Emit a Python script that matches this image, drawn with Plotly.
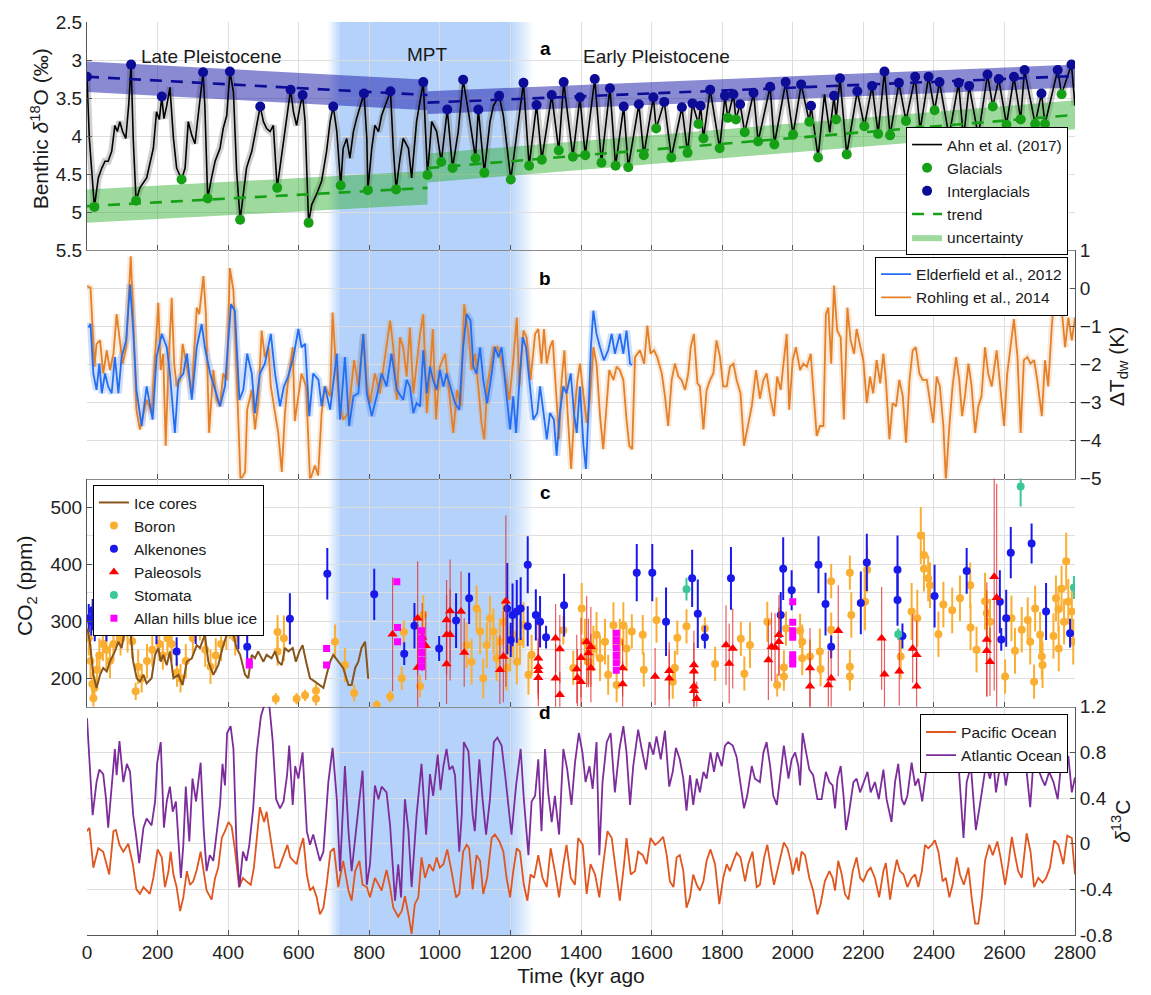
import plotly.graph_objects as go
from plotly.subplots import make_subplots

FONT = "Liberation Sans, Arial, Helvetica, sans-serif"

AGE_RANGE = [0, 2800]
X_TICKS = list(range(0, 2801, 200))

# Mid-Pleistocene Transition shading (kyr): solid core plus soft edges
MPT_CORE = (717, 1200)
MPT_EDGE_LEFT = 683
MPT_EDGE_RIGHT = 1265

# ---------------- panel a: benthic d18O stack (kyr ago, permil) ----------------
AHN_D18O = [
    (0, 3.22), (6.6, 4.03), (21, 4.93), (32, 4.55), (42, 4.42), (51, 4.33), (60, 4.33), (70, 4.20),
    (79, 3.86), (86, 3.94), (93, 3.81), (101, 3.94), (110, 4.03), (118, 3.60), (125, 3.06), (131, 4.03),
    (139, 4.85), (150, 4.68), (169, 4.55), (188, 4.16), (197, 3.68), (205, 3.78), (212, 3.48), (218, 3.77),
    (226, 3.60), (235, 3.36), (245, 4.03), (254, 4.42), (268, 4.57), (278, 4.42), (287, 3.81), (297, 3.99),
    (306, 4.10), (320, 3.47), (329, 3.16), (334, 3.60), (342, 4.82), (353, 4.55), (363, 4.33), (377, 4.16),
    (386, 3.90), (396, 3.73), (405, 3.15), (415, 3.42), (424, 4.46), (434, 5.10), (443, 4.72), (452, 4.42),
    (467, 4.20), (481, 3.86), (491, 3.61), (500, 3.81), (509, 3.90), (519, 3.94), (528, 3.86), (539, 4.68),
    (547, 4.42), (556, 4.12), (566, 3.77), (577, 3.39), (585, 3.68), (594, 3.86), (604, 3.60), (611, 3.46),
    (618, 3.81), (628, 5.14), (637, 4.90), (651, 4.76), (665, 4.59), (679, 4.20), (689, 3.81), (698, 3.61),
    (708, 3.94), (719, 4.65), (726, 4.16), (736, 4.03), (745, 4.29), (755, 3.94), (764, 3.77), (774, 3.60),
    (785, 3.44), (793, 4.03), (796, 4.71), (807, 4.16), (816, 3.86), (826, 3.94), (835, 3.73), (845, 3.60),
    (860, 3.41), (868, 4.16), (876, 4.70), (887, 4.30), (896, 4.03), (911, 4.16), (920, 4.55), (934, 3.81),
    (953, 3.29), (965, 4.51), (977, 3.81), (991, 3.94), (1004, 4.34), (1021, 3.65), (1036, 4.42), (1052, 3.94),
    (1066, 3.26), (1081, 3.68), (1090, 3.94), (1101, 4.29), (1109, 3.65), (1126, 4.48), (1142, 3.81),
    (1152, 3.60), (1168, 3.47), (1180, 3.73), (1201, 4.57), (1218, 3.94), (1237, 3.30), (1253, 4.39),
    (1274, 3.59), (1289, 4.31), (1303, 3.85), (1317, 3.46), (1337, 4.19), (1351, 3.29), (1377, 4.27),
    (1397, 3.49), (1412, 4.25), (1439, 3.25), (1458, 4.35), (1482, 3.37), (1498, 4.39), (1521, 3.61),
    (1534, 4.41), (1564, 3.58), (1578, 4.25), (1605, 3.49), (1613, 3.90), (1636, 3.55), (1656, 4.28),
    (1686, 3.62), (1702, 4.22), (1716, 3.57), (1733, 3.84), (1739, 3.60), (1747, 4.03), (1766, 3.39),
    (1793, 4.16), (1808, 3.47), (1816, 3.76), (1832, 3.45), (1839, 3.78), (1851, 3.58), (1864, 3.95),
    (1889, 3.43), (1902, 4.07), (1936, 3.35), (1948, 4.11), (1980, 3.29), (2001, 3.98), (2024, 3.32),
    (2047, 3.81), (2052, 3.60), (2072, 4.28), (2090, 3.45), (2105, 3.95), (2117, 3.47), (2123, 3.78),
    (2134, 3.24), (2153, 4.24), (2183, 3.41), (2203, 3.87), (2225, 3.34), (2242, 3.97), (2260, 3.15),
    (2276, 3.99), (2301, 3.30), (2321, 3.80), (2347, 3.22), (2361, 3.92), (2385, 3.22), (2402, 3.66),
    (2416, 3.29), (2443, 4.00), (2470, 3.30), (2484, 4.03), (2500, 3.34), (2526, 4.00), (2552, 3.19),
    (2567, 3.61), (2584, 3.25), (2606, 3.85), (2627, 3.22), (2646, 3.78), (2657, 3.13), (2687, 3.84),
    (2705, 3.44), (2715, 3.84), (2751, 3.13), (2762, 3.45), (2790, 3.06), (2800, 3.60),
]

GLACIALS = [
    (21, 4.93), (139, 4.85), (268, 4.57), (342, 4.82), (434, 5.10), (539, 4.68), (628, 5.14), (719, 4.65),
    (796, 4.71), (876, 4.70), (965, 4.51), (1004, 4.34), (1036, 4.42), (1101, 4.29), (1126, 4.48),
    (1201, 4.57), (1253, 4.39), (1289, 4.31), (1337, 4.19), (1377, 4.27), (1412, 4.25), (1458, 4.35),
    (1498, 4.39), (1534, 4.41), (1578, 4.25), (1613, 3.90), (1656, 4.28), (1702, 4.22), (1733, 3.84),
    (1747, 4.03), (1793, 4.16), (1816, 3.76), (1839, 3.78), (1864, 3.95), (1902, 4.07), (1948, 4.11),
    (2001, 3.98), (2047, 3.81), (2072, 4.28), (2123, 3.78), (2153, 4.24), (2203, 3.87), (2242, 3.97),
    (2276, 3.99), (2321, 3.80), (2361, 3.92), (2402, 3.66), (2567, 3.61), (2606, 3.85), (2646, 3.78),
    (2687, 3.84), (2715, 3.84), (2762, 3.45),
]

INTERGLACIALS = [
    (0, 3.22), (125, 3.06), (212, 3.48), (329, 3.16), (405, 3.15), (491, 3.61), (577, 3.39), (611, 3.46),
    (698, 3.61), (785, 3.44), (860, 3.41), (953, 3.29), (1021, 3.65), (1066, 3.26), (1109, 3.65),
    (1168, 3.47), (1237, 3.30), (1274, 3.59), (1317, 3.46), (1351, 3.29), (1397, 3.49), (1439, 3.25),
    (1482, 3.37), (1521, 3.61), (1564, 3.58), (1605, 3.49), (1636, 3.55), (1686, 3.62), (1716, 3.57),
    (1739, 3.60), (1766, 3.39), (1808, 3.47), (1832, 3.45), (1851, 3.58), (1889, 3.43), (1936, 3.35),
    (1980, 3.29), (2024, 3.32), (2052, 3.60), (2117, 3.47), (2134, 3.24), (2183, 3.41), (2225, 3.34),
    (2260, 3.15), (2301, 3.30), (2347, 3.22), (2385, 3.22), (2416, 3.29), (2470, 3.30), (2500, 3.34),
    (2552, 3.19), (2584, 3.25), (2627, 3.22), (2657, 3.13), (2705, 3.44), (2751, 3.13), (2790, 3.06),
]

# trend segments: (start kyr, end kyr, value at start, value at end, half-width of uncertainty)
TREND_INTERGLACIAL = [(0, 965, 3.22, 3.46, 0.20), (965, 2800, 3.56, 3.21, 0.15)]
TREND_GLACIAL = [(0, 965, 4.92, 4.68, 0.22), (965, 2800, 4.42, 3.72, 0.19)]

# ---------------- panel b: deep-water temperature anomaly (K) ----------------
ELDERFIELD = [
    (4, -1.03), (10, -0.94), (18, -2.24), (27, -2.67), (35, -1.98), (42, -2.76), (51, -2.24), (60, -2.58),
    (70, -2.76), (79, -1.81), (89, -2.76), (98, -1.81), (111, -1.37), (122, 0.10), (131, -1.11), (140, -2.67),
    (155, -3.62), (169, -2.58), (186, -3.45), (197, -1.81), (212, -1.20), (226, -1.55), (235, -2.24),
    (249, -3.80), (259, -2.41), (273, -2.24), (283, -1.72), (297, -2.93), (311, -1.55), (325, -0.94),
    (334, -1.55), (349, -2.24), (363, -2.67), (377, -3.10), (391, -2.58), (408, -0.42), (419, -0.59),
    (432, -2.93), (443, -2.67), (454, -1.72), (467, -2.24), (476, -3.28), (490, -2.24), (504, -1.98),
    (521, -1.20), (533, -2.24), (547, -3.10), (558, -2.58), (570, -2.32), (585, -1.81), (599, -1.07),
    (608, -1.55), (618, -1.46), (630, -3.36), (641, -2.24), (656, -2.41), (665, -3.10), (674, -2.58),
    (689, -3.19), (708, -1.72), (717, -3.45), (731, -1.81), (743, -3.62), (755, -2.84), (769, -2.76),
    (783, -1.20), (793, -2.76), (807, -3.36), (821, -2.84), (835, -2.24), (849, -2.58), (863, -1.72),
    (878, -2.67), (896, -2.93), (906, -2.41), (915, -2.58), (925, -3.28), (934, -3.02), (944, -3.10),
    (953, -1.63), (963, -2.76), (972, -2.06), (981, -2.41), (991, -2.67), (1000, -2.15), (1010, -2.58),
    (1019, -2.24), (1033, -2.67), (1043, -3.02), (1055, -3.19), (1066, -1.55), (1076, -0.68), (1087, -0.85),
    (1095, -2.06), (1104, -2.24), (1114, -1.55), (1123, -2.41), (1134, -3.02), (1147, -2.24), (1156, -1.55),
    (1166, -1.81), (1175, -1.55), (1187, -2.58), (1199, -3.71), (1208, -2.84), (1216, -3.80), (1227, -2.24),
    (1235, -1.29), (1244, -1.55), (1255, -2.58), (1265, -3.45), (1276, -3.28), (1284, -2.58), (1295, -3.36),
    (1303, -3.97), (1312, -3.28), (1323, -3.45), (1331, -4.40), (1340, -3.28), (1350, -2.58), (1359, -2.76),
    (1371, -2.24), (1380, -3.28), (1388, -3.80), (1397, -2.58), (1407, -4.14), (1414, -4.75), (1422, -3.10),
    (1428, -1.55), (1435, -0.59), (1444, -1.20), (1454, -1.55), (1465, -1.89), (1477, -1.63), (1487, -1.20),
    (1496, -1.72), (1510, -1.20), (1520, -1.72), (1529, -1.11), (1539, -1.98), (1545, -2.02),
]

ROHLING = [
    (0, 0.06), (10, 0.01), (16, -1.11), (21, -2.06), (27, -1.46), (37, -1.37), (46, -2.24), (56, -1.63),
    (65, -2.15), (75, -1.72), (84, -0.68), (92, -1.37), (101, -1.98), (111, -1.55), (124, 0.84), (131, -0.68),
    (140, -3.19), (150, -3.71), (160, -3.28), (169, -2.93), (183, -3.28), (193, -1.81), (202, -0.38),
    (209, -2.15), (216, -1.72), (223, -4.14), (230, -2.24), (240, -0.25), (247, -1.98), (254, -2.58),
    (264, -2.41), (271, -1.46), (283, -2.06), (297, -2.76), (311, -0.51), (318, -0.68), (330, 0.32),
    (337, -0.68), (346, -3.80), (358, -2.15), (367, -2.93), (377, -3.10), (386, -2.24), (396, -2.41),
    (405, 0.53), (415, -0.07), (424, -2.24), (435, -5.05), (448, -4.83), (454, -3.19), (467, -2.67),
    (476, -3.71), (485, -3.02), (495, -1.11), (504, -1.81), (514, -1.55), (521, -2.58), (533, -3.28),
    (542, -3.80), (552, -4.83), (561, -3.28), (570, -2.41), (583, -1.55), (589, -3.49), (599, -2.80),
    (608, -2.24), (621, -2.58), (632, -5.05), (646, -4.66), (655, -4.92), (665, -3.28), (674, -2.58),
    (689, -2.84), (696, -0.64), (706, -2.15), (717, -3.10), (726, -3.45), (741, -3.28), (757, -1.89),
    (769, -2.58), (783, -1.20), (793, -2.50), (802, -3.02), (816, -2.24), (830, -2.76), (847, -1.63),
    (859, -0.85), (868, -1.55), (878, -2.93), (887, -1.29), (896, -1.55), (906, -2.32), (915, -1.03),
    (925, -2.76), (934, -2.06), (944, -1.20), (953, -0.68), (963, -3.28), (972, -2.24), (980, -1.07),
    (989, -3.45), (1000, -2.06), (1015, -1.72), (1027, -2.76), (1038, -3.80), (1049, -2.67), (1059, -3.10),
    (1069, -0.42), (1081, -1.20), (1090, -2.15), (1100, -1.72), (1109, -2.58), (1118, -3.54), (1126, -3.97),
    (1134, -2.58), (1144, -2.06), (1153, -1.55), (1163, -1.55), (1175, -1.89), (1187, -2.41), (1197, -2.93),
    (1208, -1.89), (1218, -0.77), (1225, -2.58), (1237, -1.11), (1246, -1.29), (1257, -2.41), (1270, -1.20),
    (1279, -1.07), (1288, -1.98), (1295, -1.07), (1303, -1.98), (1312, -1.55), (1320, -1.37), (1329, -2.58),
    (1338, -3.97), (1345, -2.41), (1353, -1.63), (1362, -3.28), (1372, -4.75), (1381, -3.28), (1390, -2.41),
    (1397, -1.98), (1407, -2.84), (1416, -3.54), (1425, -2.93), (1435, -1.55), (1444, -1.98), (1454, -3.36),
    (1463, -4.23), (1473, -2.84), (1480, -2.15), (1492, -2.41), (1501, -2.06), (1510, -2.15), (1520, -2.41),
    (1529, -3.45), (1537, -4.14), (1545, -4.23), (1553, -1.81), (1567, -1.63), (1579, -1.98), (1588, -0.98),
    (1597, -1.72), (1607, -1.63), (1616, -1.81), (1629, -2.24), (1638, -2.84), (1647, -3.62), (1657, -2.41),
    (1666, -1.98), (1676, -2.32), (1685, -2.41), (1695, -2.67), (1704, -2.24), (1711, -1.55), (1720, -1.20),
    (1730, -2.50), (1737, -2.58), (1747, -3.71), (1756, -2.67), (1766, -2.41), (1775, -2.24), (1784, -1.37),
    (1794, -1.81), (1803, -2.58), (1813, -2.58), (1822, -2.06), (1832, -1.98), (1841, -2.41), (1852, -2.76),
    (1862, -4.14), (1871, -3.71), (1884, -3.10), (1896, -2.15), (1907, -2.90), (1917, -2.41), (1926, -2.24),
    (1936, -2.84), (1947, -3.36), (1956, -2.32), (1966, -2.67), (1975, -1.89), (1983, -1.20), (1990, -3.19),
    (2000, -1.89), (2009, -1.55), (2021, -2.15), (2030, -1.98), (2040, -2.06), (2051, -1.72), (2060, -2.76),
    (2068, -3.88), (2077, -3.62), (2087, -3.62), (2094, -0.68), (2101, -0.51), (2109, -1.98), (2117, 0.07),
    (2126, -1.11), (2136, -1.29), (2145, -3.45), (2155, -0.51), (2164, -1.37), (2174, -1.72), (2181, -1.07),
    (2191, -1.55), (2200, -1.89), (2210, -3.02), (2219, -2.32), (2228, -2.76), (2238, -1.89), (2248, -2.50),
    (2257, -1.72), (2264, -2.41), (2274, -3.97), (2283, -3.02), (2293, -3.10), (2302, -2.41), (2312, -2.84),
    (2321, -4.06), (2331, -2.41), (2340, -1.63), (2349, -1.55), (2359, -2.24), (2368, -2.41), (2380, -2.41),
    (2389, -2.93), (2398, -3.54), (2408, -2.32), (2417, -2.58), (2427, -3.62), (2434, -5.05), (2444, -3.62),
    (2453, -2.58), (2463, -1.81), (2472, -2.41), (2480, -3.36), (2488, -2.84), (2498, -1.98), (2507, -2.58),
    (2517, -3.80), (2526, -3.10), (2535, -2.84), (2545, -1.55), (2554, -2.24), (2564, -2.58), (2578, -1.63),
    (2589, -2.58), (2599, -3.62), (2608, -2.24), (2618, -1.55), (2627, -0.81), (2637, -1.81), (2646, -3.80),
    (2655, -1.89), (2665, -1.81), (2674, -1.98), (2684, -1.89), (2693, -2.41), (2706, -3.36), (2715, -1.89),
    (2724, -2.58), (2734, -1.03), (2743, 0.01), (2753, -0.51), (2762, -0.51), (2772, -1.55), (2781, -0.77),
    (2791, -1.37), (2800, -0.77),
]

# ---------------- panel c: atmospheric CO2 (ppm) ----------------
ICE_CORES = [
    (1, 287), (8, 264), (18, 206), (27, 183), (37, 206), (46, 218), (56, 212), (65, 229), (79, 247), (89, 264),
    (98, 253), (105, 276), (114, 290), (122, 288), (131, 229), (141, 200), (150, 194), (160, 206), (169, 191),
    (183, 200), (193, 241), (202, 253), (209, 229), (216, 241), (226, 223), (235, 247), (245, 200), (259, 206),
    (271, 188), (283, 229), (297, 235), (311, 258), (320, 253), (334, 276), (344, 229), (358, 206), (372, 223),
    (384, 253), (396, 276), (405, 284), (415, 276), (424, 253), (434, 241), (448, 206), (457, 200), (467, 241),
    (476, 235), (485, 247), (500, 229), (509, 241), (523, 235), (533, 247), (542, 229), (552, 223), (561, 253),
    (571, 247), (583, 253), (592, 229), (602, 247), (611, 258), (621, 229), (632, 200), (646, 194), (660, 188),
    (670, 183), (679, 206), (689, 229), (698, 241), (712, 229), (726, 218), (741, 188), (750, 188), (760, 218),
    (769, 229), (778, 253), (788, 264), (793, 229), (797, 199),
]

# (kyr, ppm, +/- ppm)
BORON = [
    (5, 270, 30), (10, 230, 30), (15, 190, 20), (18, 165, 15), (21, 183, 20), (28, 215, 30), (35, 240, 30),
    (45, 260, 30), (55, 250, 35), (65, 230, 30), (75, 260, 30), (85, 285, 30), (95, 270, 30), (105, 295, 30),
    (115, 280, 35), (128, 265, 30), (138, 177, 15), (145, 220, 30), (155, 200, 25), (170, 230, 30),
    (185, 250, 30), (205, 260, 30), (215, 240, 25), (228, 270, 30), (240, 260, 30), (255, 210, 25),
    (265, 200, 25), (280, 230, 30), (300, 270, 30), (320, 296, 30), (335, 250, 30), (350, 220, 30),
    (365, 240, 30), (380, 260, 30), (395, 280, 30), (405, 299, 30), (420, 270, 30), (454, 290, 25),
    (540, 281, 30), (540, 247, 25), (535, 164, 10), (558, 270, 40), (594, 164, 10), (618, 170, 10),
    (649, 164, 12), (649, 178, 12), (703, 264, 30), (731, 223, 30), (757, 174, 15), (821, 153, 8),
    (859, 168, 10), (892, 200, 20), (898, 281, 20), (944, 186, 20), (953, 311, 35), (1076, 258, 40),
    (1090, 229, 40), (1104, 322, 40), (1114, 282, 40), (1123, 200, 35), (1133, 258, 40), (1142, 305, 40),
    (1152, 282, 40), (1161, 235, 40), (1170, 264, 40), (1180, 299, 40), (1189, 218, 40), (1199, 252, 40),
    (1208, 276, 40), (1218, 229, 40), (1227, 264, 40), (1237, 293, 40), (1251, 206, 35), (1260, 241, 35),
    (1350, 284, 25), (1378, 218, 30), (1402, 322, 45), (1411, 264, 40), (1421, 229, 40), (1435, 252, 40),
    (1444, 276, 40), (1454, 235, 40), (1468, 264, 40), (1477, 206, 35), (1492, 293, 40), (1501, 188, 30),
    (1510, 264, 40), (1520, 293, 40), (1529, 252, 40), (1544, 282, 30), (1575, 276, 35), (1578, 215, 30),
    (1614, 302, 40), (1660, 194, 30), (1666, 218, 30), (1673, 271, 30), (1699, 291, 30), (1751, 287, 20),
    (1780, 225, 30), (1853, 269, 30), (1863, 208, 30), (1879, 258, 40), (1928, 299, 35), (1956, 188, 20),
    (1975, 219, 30), (1975, 203, 25), (1981, 287, 30), (2021, 283, 30), (2027, 264, 30), (2027, 235, 30),
    (2049, 238, 30), (2077, 247, 40), (2079, 216, 30), (2109, 370, 30), (2109, 285, 30), (2162, 385, 30),
    (2166, 311, 40), (2162, 220, 30), (2162, 203, 25), (2205, 334, 50), (2211, 390, 40), (2306, 238, 40),
    (2337, 317, 50), (2353, 305, 50), (2363, 450, 50), (2372, 416, 40), (2372, 392, 40), (2384, 375, 40),
    (2389, 363, 40), (2413, 277, 40), (2427, 329, 40), (2452, 319, 40), (2474, 340, 40), (2503, 363, 40),
    (2504, 289, 40), (2521, 250, 40), (2545, 335, 50), (2550, 314, 40), (2559, 299, 40), (2602, 203, 30),
    (2620, 305, 40), (2630, 248, 40), (2649, 285, 40), (2666, 302, 40), (2673, 264, 40), (2684, 194, 30),
    (2687, 322, 40), (2701, 276, 40), (2706, 238, 40), (2708, 223, 40), (2739, 274, 40), (2746, 340, 40),
    (2753, 321, 40), (2754, 252, 40), (2762, 357, 40), (2769, 299, 40), (2775, 405, 50), (2781, 334, 40),
    (2791, 317, 40), (2795, 264, 40),
]

ALKENONES = [
    (5, 305, 25), (12, 300, 25), (16, 319, 20), (22, 290, 25), (28, 305, 25), (35, 295, 20), (45, 300, 25),
    (55, 285, 20), (197, 290, 30), (254, 247, 25), (308, 290, 30), (429, 286, 35), (454, 255, 30),
    (575, 304, 45), (681, 383, 45), (814, 347, 45), (899, 243, 20), (928, 292, 40), (998, 252, 22),
    (1046, 301, 48), (1083, 340, 45), (1191, 322, 80), (1201, 267, 30), (1206, 311, 55), (1218, 317, 55),
    (1229, 322, 55), (1249, 399, 50), (1249, 291, 35), (1272, 311, 45), (1284, 299, 45), (1301, 272, 20),
    (1352, 328, 55), (1558, 385, 50), (1602, 385, 50), (1641, 299, 60), (1715, 375, 50), (1731, 313, 60),
    (1751, 272, 20), (1825, 375, 55), (1966, 311, 40), (1973, 392, 55), (1997, 354, 35), (2073, 399, 50),
    (2093, 330, 55), (2109, 255, 20), (2193, 332, 55), (2210, 403, 50), (2297, 390, 60), (2297, 337, 45),
    (2311, 274, 22), (2402, 344, 55), (2493, 388, 40), (2587, 334, 55), (2591, 268, 20), (2605, 305, 50),
    (2618, 420, 45), (2677, 436, 35), (2718, 317, 50), (2786, 279, 25),
]

PALEOSOLS = [
    (866, 277, 100), (937, 305, 100), (937, 219, 70), (950, 272, 60), (960, 257, 60), (1019, 302, 70),
    (1019, 276, 70), (1019, 225, 70), (1029, 318, 90), (1029, 276, 80), (1060, 317, 70), (1069, 245, 60),
    (1170, 215, 60), (1180, 238, 80), (1187, 335, 150), (1279, 235, 60), (1279, 220, 50), (1279, 213, 50),
    (1279, 201, 50), (1328, 270, 60), (1328, 200, 60), (1340, 251, 60), (1340, 171, 40), (1388, 216, 60),
    (1390, 201, 50), (1400, 236, 70), (1400, 194, 50), (1416, 264, 80), (1421, 244, 60), (1428, 255, 70),
    (1428, 218, 60), (1518, 218, 50), (1518, 190, 40), (1610, 203, 50), (1650, 213, 50), (1650, 200, 50),
    (1720, 223, 60), (1720, 212, 50), (1720, 186, 40), (1720, 178, 40), (1728, 164, 30), (1811, 258, 70),
    (1820, 226, 70), (1830, 252, 70), (1931, 232, 70), (1940, 255, 60), (1950, 254, 60), (1961, 276, 70),
    (1961, 264, 60), (2049, 218, 70), (2049, 186, 50), (2101, 188, 60), (2109, 200, 50), (2129, 283, 80),
    (2252, 270, 90), (2260, 207, 60), (2302, 212, 60), (2340, 252, 60), (2351, 241, 60), (2351, 186, 50),
    (2550, 268, 100), (2550, 248, 80), (2559, 229, 60), (2571, 378, 200), (2578, 341, 200),
]

STOMATA = [(1699, 356, 20), (2299, 277, 10), (2646, 536, 35), (2797, 359, 20)]

ALLAN_HILLS = [
    (460, 229), (460, 223), (679, 252), (679, 223), (878, 369), (880, 289), (880, 264),
    (948, 283), (948, 270), (948, 258), (948, 245), (948, 232), (948, 220),
    (1500, 279), (1500, 266), (1500, 253), (1500, 240), (1500, 227), (1500, 214),
    (2000, 334), (2000, 298), (2000, 283), (2000, 272), (2000, 241), (2000, 232), (2000, 225),
]

# ---------------- panel d: benthic d13C (permil) ----------------
PACIFIC = [
    (0, 0.11), (7, 0.14), (18, -0.21), (32, -0.04), (46, -0.07), (56, -0.18), (63, -0.27), (75, 0.11),
    (82, 0.12), (92, -0.01), (103, -0.07), (117, 0.00), (130, -0.18), (140, -0.40), (150, -0.44), (160, -0.38),
    (169, -0.41), (178, -0.44), (188, -0.30), (200, -0.05), (212, -0.12), (221, -0.38), (231, -0.24),
    (237, -0.07), (245, -0.27), (254, -0.38), (264, -0.59), (273, -0.47), (283, -0.24), (292, -0.36),
    (301, -0.33), (311, -0.23), (322, -0.07), (331, -0.24), (339, -0.41), (353, -0.49), (363, -0.30),
    (372, -0.21), (382, 0.05), (391, 0.11), (401, 0.19), (410, 0.15), (420, -0.07), (431, -0.38), (442, -0.30),
    (452, -0.33), (464, -0.36), (473, -0.21), (483, 0.11), (490, 0.32), (502, 0.19), (509, 0.28), (520, 0.05),
    (533, -0.21), (545, -0.21), (556, -0.12), (568, -0.01), (576, -0.12), (585, -0.15), (594, -0.18),
    (604, -0.04), (613, 0.05), (623, -0.27), (632, -0.41), (641, -0.38), (651, -0.47), (660, -0.62),
    (670, -0.56), (679, -0.36), (690, -0.07), (700, -0.04), (712, -0.38), (726, -0.15), (741, -0.41),
    (750, -0.50), (760, -0.24), (772, -0.15), (781, -0.36), (793, -0.38), (802, -0.47), (816, -0.30),
    (826, -0.36), (835, -0.41), (849, -0.23), (859, -0.38), (868, -0.56), (882, -0.64), (892, -0.59),
    (901, -0.46), (911, -0.62), (920, -0.79), (929, -0.53), (939, -0.47), (948, -0.12), (958, -0.30),
    (970, -0.18), (981, -0.24), (991, -0.12), (1000, -0.21), (1010, -0.18), (1021, -0.05), (1033, -0.24),
    (1046, -0.47), (1055, -0.44), (1066, -0.07), (1076, -0.01), (1083, -0.04), (1093, -0.40), (1104, -0.10),
    (1114, -0.15), (1123, -0.44), (1134, -0.30), (1147, 0.05), (1156, 0.08), (1169, 0.02), (1180, -0.07),
    (1189, -0.30), (1199, -0.47), (1208, -0.24), (1218, -0.04), (1227, -0.07), (1238, -0.36), (1248, -0.50),
    (1257, -0.27), (1267, -0.30), (1279, -0.10), (1291, -0.30), (1303, -0.38), (1314, -0.04), (1326, -0.24),
    (1338, -0.47), (1350, -0.18), (1359, -0.01), (1371, -0.30), (1383, -0.36), (1392, 0.05), (1405, -0.01),
    (1416, -0.44), (1427, -0.18), (1440, -0.27), (1452, -0.47), (1463, -0.18), (1475, 0.11), (1487, 0.05),
    (1499, -0.24), (1510, -0.50), (1522, -0.18), (1529, 0.05), (1541, -0.27), (1553, -0.24), (1562, -0.07),
    (1575, -0.10), (1586, -0.18), (1597, 0.05), (1610, -0.01), (1622, 0.02), (1633, 0.06), (1643, -0.10),
    (1652, -0.33), (1662, -0.38), (1671, -0.12), (1680, -0.10), (1690, -0.24), (1699, -0.56), (1709, -0.47),
    (1718, -0.27), (1728, -0.36), (1737, -0.41), (1747, -0.33), (1756, -0.15), (1767, -0.05), (1780, -0.18),
    (1792, -0.53), (1803, -0.30), (1813, -0.18), (1822, -0.24), (1832, -0.15), (1841, -0.08), (1852, -0.12),
    (1865, -0.33), (1874, -0.18), (1886, -0.07), (1898, -0.38), (1907, -0.36), (1919, -0.12), (1928, -0.01),
    (1940, -0.24), (1947, -0.36), (1956, -0.24), (1966, -0.12), (1975, 0.01), (1985, -0.04), (1994, -0.15),
    (2000, -0.27), (2011, -0.12), (2017, -0.24), (2025, -0.07), (2035, -0.10), (2047, -0.30), (2058, -0.41),
    (2070, -0.62), (2079, -0.53), (2091, -0.33), (2104, -0.24), (2113, -0.30), (2120, -0.41), (2129, -0.15),
    (2139, -0.27), (2148, -0.44), (2158, -0.49), (2170, -0.24), (2181, -0.12), (2191, -0.30), (2200, -0.33),
    (2212, -0.24), (2221, -0.21), (2233, -0.30), (2245, -0.47), (2257, -0.24), (2264, -0.17), (2276, -0.49),
    (2285, -0.30), (2295, -0.14), (2304, -0.24), (2314, -0.27), (2325, -0.38), (2337, -0.30), (2347, -0.27),
    (2356, -0.38), (2366, -0.24), (2375, -0.01), (2384, -0.04), (2394, -0.01), (2403, 0.03), (2413, -0.07),
    (2425, -0.33), (2434, -0.30), (2444, -0.47), (2453, -0.36), (2465, -0.12), (2474, -0.27), (2485, -0.36),
    (2498, -0.21), (2507, -0.47), (2517, -0.70), (2526, -0.70), (2536, -0.47), (2545, -0.15), (2557, -0.01),
    (2567, -0.10), (2580, 0.02), (2589, -0.12), (2602, -0.36), (2611, -0.18), (2621, 0.06), (2630, -0.10),
    (2639, -0.24), (2649, -0.30), (2663, 0.09), (2674, -0.07), (2684, -0.38), (2696, -0.30), (2708, -0.34),
    (2718, -0.30), (2729, -0.21), (2741, 0.03), (2753, -0.01), (2767, -0.18), (2778, 0.07), (2791, 0.05),
    (2800, -0.27),
]

ATLANTIC = [
    (0, 1.10), (7, 0.68), (16, 0.25), (27, 0.54), (35, 0.65), (46, 0.61), (54, 0.39), (60, 0.14), (70, 0.51),
    (79, 0.83), (84, 0.60), (92, 0.90), (103, 0.54), (113, 0.70), (122, 0.63), (131, 0.25), (140, 0.05),
    (148, -0.17), (160, 0.14), (169, 0.22), (183, 0.16), (193, 0.37), (199, 0.71), (209, 0.89), (218, 0.14),
    (226, 0.37), (235, 0.50), (243, 0.28), (252, 0.37), (259, 0.02), (266, -0.30), (273, -0.01), (280, 0.50),
    (290, 0.02), (299, 0.57), (309, 0.37), (322, 0.71), (331, 0.11), (339, -0.24), (348, -0.10), (358, -0.15),
    (367, 0.08), (377, 0.34), (384, 0.70), (391, 0.51), (397, 0.97), (407, 1.03), (415, 0.83), (424, -0.04),
    (432, -0.38), (442, -0.07), (452, -0.15), (460, -0.01), (471, 0.31), (481, 0.80), (493, 1.12), (505, 1.24),
    (517, 1.20), (526, 0.91), (536, 0.39), (547, 0.31), (557, 0.37), (567, 0.60), (573, 0.86), (583, 0.34),
    (590, 0.68), (599, 0.57), (611, 0.80), (623, 0.11), (632, -0.01), (641, 0.08), (651, -0.04), (660, -0.15),
    (670, -0.07), (684, 0.54), (696, 0.84), (708, 0.39), (717, -0.24), (731, 0.68), (741, 0.11), (750, -0.24),
    (764, 0.16), (781, 0.64), (793, -0.36), (802, -0.18), (816, 0.51), (826, 0.39), (835, 0.50), (849, 0.45),
    (859, 0.16), (873, -0.50), (882, -0.18), (890, -0.47), (901, 0.39), (911, 0.11), (920, -0.38), (934, 0.25),
    (948, 0.70), (961, 0.08), (972, 0.61), (981, 0.42), (994, 0.78), (1002, 0.47), (1010, 0.68), (1019, 0.83),
    (1027, 0.65), (1036, 0.68), (1043, 0.60), (1055, -0.07), (1062, 0.25), (1068, 0.89), (1081, 0.81),
    (1093, 0.25), (1099, 0.11), (1112, 0.74), (1121, 0.39), (1131, 0.08), (1142, 0.39), (1153, 0.89),
    (1163, 0.93), (1175, 0.86), (1185, 0.60), (1194, 0.31), (1203, 0.08), (1216, 0.51), (1229, 0.83),
    (1238, 0.39), (1251, -0.10), (1260, 0.37), (1270, 0.42), (1279, 0.74), (1288, 0.11), (1298, 0.83),
    (1307, 0.45), (1317, 0.19), (1326, 0.42), (1338, 0.08), (1350, 0.83), (1361, 0.65), (1373, 0.34),
    (1383, 0.71), (1394, 0.97), (1404, 0.80), (1413, 0.54), (1424, 0.68), (1433, 0.48), (1444, 0.89),
    (1452, -0.10), (1461, 0.54), (1473, 0.89), (1484, 0.97), (1496, 0.45), (1509, 0.83), (1520, 1.03),
    (1529, 0.80), (1539, 0.34), (1548, 0.68), (1562, 1.00), (1572, 0.83), (1584, 0.65), (1594, 0.89),
    (1605, 0.78), (1614, 0.94), (1626, 0.74), (1638, 0.99), (1650, 0.50), (1660, 0.63), (1669, 0.84),
    (1680, 0.74), (1690, 0.57), (1699, 0.29), (1709, 0.60), (1718, 0.34), (1728, 0.57), (1737, 0.45),
    (1747, 0.63), (1756, 0.57), (1767, 0.80), (1777, 0.63), (1786, 0.80), (1799, 0.68), (1808, 0.86),
    (1817, 0.89), (1830, 0.86), (1841, 0.76), (1852, 0.54), (1862, 0.31), (1871, 0.42), (1884, 0.68),
    (1893, 0.57), (1907, 0.54), (1917, 0.80), (1926, 0.89), (1936, 0.68), (1945, 0.42), (1955, 0.34),
    (1964, 0.60), (1975, 0.86), (1988, 0.57), (1997, 0.74), (2007, 0.80), (2016, 0.68), (2021, 0.51),
    (2028, 0.97), (2038, 0.80), (2047, 0.65), (2058, 0.60), (2070, 0.39), (2082, 0.39), (2094, 0.63),
    (2104, 0.54), (2113, 0.51), (2120, 0.31), (2127, 0.57), (2136, 0.68), (2144, 0.42), (2151, 0.12),
    (2160, 0.28), (2172, 0.54), (2181, 0.57), (2191, 0.45), (2202, 0.54), (2212, 0.63), (2221, 0.45),
    (2233, 0.54), (2244, 0.39), (2257, 0.65), (2266, 0.39), (2280, 0.19), (2290, 0.54), (2299, 0.70),
    (2309, 0.39), (2316, 0.34), (2325, 0.42), (2337, 0.71), (2347, 0.51), (2356, 0.57), (2367, 0.37),
    (2380, 0.68), (2389, 0.76), (2408, 0.83), (2427, 0.91), (2441, 0.68), (2455, 0.80), (2469, 0.74),
    (2484, 0.05), (2493, 0.54), (2505, 0.68), (2512, 0.39), (2519, 0.12), (2529, 0.31), (2538, 0.51),
    (2548, 0.70), (2559, 0.57), (2569, 0.71), (2576, 0.45), (2586, 0.65), (2595, 0.71), (2604, 0.51),
    (2616, 0.74), (2625, 0.68), (2639, 0.65), (2654, 0.71), (2663, 0.63), (2673, 0.32), (2682, 0.71),
    (2693, 0.68), (2706, 0.57), (2715, 0.51), (2727, 0.63), (2739, 0.54), (2751, 0.39), (2762, 0.74),
    (2772, 0.64), (2781, 0.77), (2791, 0.45), (2800, 0.58),
]

# ---------------- colours ----------------
C_MPT = "rgb(181,211,250)"
C_IG = "rgb(12,12,150)"
C_GL = "rgb(22,160,22)"
C_IG_BAND = "rgba(30,30,170,0.52)"
C_GL_BAND = "rgba(40,170,40,0.45)"
C_ELDER = "rgb(35,110,240)"
C_ROHL = "rgb(228,128,40)"
C_ICE = "rgb(135,85,30)"
C_BORON = "rgb(250,175,50)"
C_ALK = "rgb(25,25,235)"
C_PALEO = "rgb(255,0,0)"
C_STOM = "rgb(60,200,150)"
C_ALLAN = "rgb(255,0,255)"
C_PAC = "rgb(225,85,30)"
C_ATL = "rgb(125,45,155)"


def cols(rows):
    return [list(c) for c in zip(*rows)]


fig = make_subplots(rows=4, cols=1, shared_xaxes=True, vertical_spacing=0)

# ---- panel a ----
ax, ay = cols(AHN_D18O)
fig.add_trace(go.Scatter(x=ax, y=ay, mode="lines", line=dict(color="rgba(120,120,120,0.35)", width=7),
                         hoverinfo="skip", showlegend=False), row=1, col=1)

for segs, band_col, tag in ((TREND_INTERGLACIAL, C_IG_BAND, "ig"), (TREND_GLACIAL, C_GL_BAND, "gl")):
    for i, (x0, x1, v0, v1, hw) in enumerate(segs):
        fig.add_trace(go.Scatter(
            x=[x0, x1, x1, x0, x0], y=[v0 - hw, v1 - hw, v1 + hw, v0 + hw, v0 - hw],
            mode="lines", fill="toself", fillcolor=band_col, line=dict(width=0),
            name="uncertainty", legend="legend", legendrank=5,
            showlegend=(tag == "gl" and i == 0), hoverinfo="skip"), row=1, col=1)

fig.add_trace(go.Scatter(x=ax, y=ay, mode="lines", line=dict(color="black", width=1.6),
                         name="Ahn et al. (2017)", legend="legend", legendrank=1), row=1, col=1)

for segs, line_col, tag in ((TREND_INTERGLACIAL, C_IG, "ig"), (TREND_GLACIAL, C_GL, "gl")):
    for i, (x0, x1, v0, v1, hw) in enumerate(segs):
        fig.add_trace(go.Scatter(
            x=[x0, x1], y=[v0, v1], mode="lines",
            line=dict(color=line_col, width=2.6, dash="12px,9px"),
            name="trend", legend="legend", legendrank=4,
            showlegend=(tag == "gl" and i == 0)), row=1, col=1)

gx, gy = cols(GLACIALS)
fig.add_trace(go.Scatter(x=gx, y=gy, mode="markers", marker=dict(color=C_GL, size=10),
                         name="Glacials", legend="legend", legendrank=2), row=1, col=1)
ix, iy = cols(INTERGLACIALS)
fig.add_trace(go.Scatter(x=ix, y=iy, mode="markers", marker=dict(color=C_IG, size=10),
                         name="Interglacials", legend="legend", legendrank=3), row=1, col=1)

# ---- panel b ----
ex, ey = cols(ELDERFIELD)
rx, ry = cols(ROHLING)
fig.add_trace(go.Scatter(x=ex, y=ey, mode="lines", line=dict(color="rgba(35,110,240,0.22)", width=7),
                         showlegend=False, hoverinfo="skip"), row=2, col=1)
fig.add_trace(go.Scatter(x=rx, y=ry, mode="lines", line=dict(color="rgba(228,128,40,0.18)", width=6),
                         showlegend=False, hoverinfo="skip"), row=2, col=1)
fig.add_trace(go.Scatter(x=rx, y=ry, mode="lines", line=dict(color=C_ROHL, width=1.8),
                         name="Rohling et al., 2014", legend="legend2", legendrank=2), row=2, col=1)
fig.add_trace(go.Scatter(x=ex, y=ey, mode="lines", line=dict(color=C_ELDER, width=1.8),
                         name="Elderfield et al., 2012", legend="legend2", legendrank=1), row=2, col=1)

# ---- panel c ----
bx, by, be = cols(BORON)
fig.add_trace(go.Scatter(x=bx, y=by, mode="markers", marker=dict(color=C_BORON, size=8),
                         error_y=dict(type="data", array=be, width=0, thickness=2, color=C_BORON),
                         name="Boron", legend="legend3", legendrank=2), row=3, col=1)
kx, ky, ke = cols(ALKENONES)
fig.add_trace(go.Scatter(x=kx, y=ky, mode="markers", marker=dict(color=C_ALK, size=8),
                         error_y=dict(type="data", array=ke, width=0, thickness=2, color=C_ALK),
                         name="Alkenones", legend="legend3", legendrank=3), row=3, col=1)
cx, cy = cols(ICE_CORES)
fig.add_trace(go.Scatter(x=cx, y=cy, mode="lines", line=dict(color=C_ICE, width=2),
                         name="Ice cores", legend="legend3", legendrank=1), row=3, col=1)
px_, py_, pe = cols(PALEOSOLS)
fig.add_trace(go.Scatter(x=px_, y=py_, mode="markers", marker=dict(color=C_PALEO, size=9, symbol="triangle-up"),
                         error_y=dict(type="data", array=pe, width=0, thickness=1.2, color="rgba(225,40,40,0.75)"),
                         name="Paleosols", legend="legend3", legendrank=4), row=3, col=1)
sx, sy, se = cols(STOMATA)
fig.add_trace(go.Scatter(x=sx, y=sy, mode="markers", marker=dict(color=C_STOM, size=8),
                         error_y=dict(type="data", array=se, width=0, thickness=2, color=C_STOM),
                         name="Stomata", legend="legend3", legendrank=5), row=3, col=1)
hx, hy = cols(ALLAN_HILLS)
fig.add_trace(go.Scatter(x=hx, y=hy, mode="markers", marker=dict(color=C_ALLAN, size=7, symbol="square"),
                         name="Allan hills blue ice", legend="legend3", legendrank=6), row=3, col=1)

# ---- panel d ----
qx, qy = cols(PACIFIC)
fig.add_trace(go.Scatter(x=qx, y=qy, mode="lines", line=dict(color=C_PAC, width=1.8),
                         name="Pacific Ocean", legend="legend4", legendrank=1), row=4, col=1)
tx, ty = cols(ATLANTIC)
fig.add_trace(go.Scatter(x=tx, y=ty, mode="lines", line=dict(color=C_ATL, width=1.8),
                         name="Atlantic Ocean", legend="legend4", legendrank=2), row=4, col=1)

# ---- MPT shading with soft edges ----
shapes = [dict(type="rect", xref="x", yref="paper", x0=MPT_CORE[0], x1=MPT_CORE[1], y0=0, y1=1,
               fillcolor=C_MPT, line=dict(width=0), layer="below")]
n_left, n_right = 8, 14
for k in range(n_left):
    a0 = MPT_EDGE_LEFT + (MPT_CORE[0] - MPT_EDGE_LEFT) * k / n_left
    a1 = MPT_EDGE_LEFT + (MPT_CORE[0] - MPT_EDGE_LEFT) * (k + 1) / n_left
    shapes.append(dict(type="rect", xref="x", yref="paper", x0=a0, x1=a1, y0=0, y1=1,
                       fillcolor=C_MPT, opacity=(k + 0.5) / n_left, line=dict(width=0), layer="below"))
for k in range(n_right):
    a0 = MPT_CORE[1] + (MPT_EDGE_RIGHT - MPT_CORE[1]) * k / n_right
    a1 = MPT_CORE[1] + (MPT_EDGE_RIGHT - MPT_CORE[1]) * (k + 1) / n_right
    shapes.append(dict(type="rect", xref="x", yref="paper", x0=a0, x1=a1, y0=0, y1=1,
                       fillcolor=C_MPT, opacity=1 - (k + 0.5) / n_right, line=dict(width=0), layer="below"))

TXT = "#1a1a1a"
TITLE_FONT = dict(size=21, color=TXT)
annotations = [
    dict(text="Late Pleistocene", x=354, y=0.976, xref="x", yref="paper", showarrow=False,
         font=dict(size=19, color=TXT)),
    dict(text="MPT", x=966, y=0.978, xref="x", yref="paper", showarrow=False, font=dict(size=19, color=TXT)),
    dict(text="Early Pleistocene", x=1615, y=0.976, xref="x", yref="paper", showarrow=False,
         font=dict(size=19, color=TXT)),
    # vertical axis titles
    dict(text="Benthic <i>δ</i><sup>18</sup>O (‰)", x=-0.0476, y=0.8835, xref="paper", yref="paper",
         textangle=-90, showarrow=False, xanchor="center", yanchor="middle", font=TITLE_FONT),
    dict(text="CO<sub>2</sub> (ppm)", x=-0.061, y=0.382, xref="paper", yref="paper",
         textangle=-90, showarrow=False, xanchor="center", yanchor="middle", font=TITLE_FONT),
    dict(text="ΔT<sub>dw</sub> (K)", x=1.0435, y=0.623, xref="paper", yref="paper",
         textangle=-90, showarrow=False, xanchor="center", yanchor="middle", font=TITLE_FONT),
    dict(text="<i>δ</i><sup>13</sup>C", x=1.0465, y=0.125, xref="paper", yref="paper",
         textangle=-90, showarrow=False, xanchor="center", yanchor="middle", font=TITLE_FONT),
]
for letter, yy in (("a", 0.985), ("b", 0.733), ("c", 0.485), ("d", 0.230)):
    annotations.append(dict(text="<b>%s</b>" % letter, x=1298, y=yy, xref="x", yref="paper",
                            showarrow=False, font=dict(size=19, color="black")))

AXC = "#555555"
GRID = "#dedede"
TICKF = dict(size=19, color="#222222", family=FONT)
common_x = dict(range=AGE_RANGE, tickvals=X_TICKS, showgrid=True, gridcolor=GRID, zeroline=False,
                showline=True, linecolor="#8a8a8a", ticks="inside", ticklen=5, tickcolor=AXC,
                tickfont=TICKF)
for i in range(1, 5):
    fig.update_xaxes(common_x, row=i, col=1)
fig.update_xaxes(title=dict(text="Time (kyr ago", font=TITLE_FONT, standoff=6),
                 linecolor=AXC, row=4, col=1)

common_y = dict(showgrid=True, gridcolor=GRID, zeroline=False, showline=True, linecolor=AXC,
                ticks="inside", ticklen=5, tickcolor=AXC, tickfont=TICKF)
fig.update_yaxes(common_y, row=1, col=1, range=[5.5, 2.5],
                 tickvals=[2.5, 3, 3.5, 4, 4.5, 5, 5.5],
                 ticktext=["2.5", "3", "3.5", "4", "4.5", "5", "5.5"])
fig.update_yaxes(common_y, row=2, col=1, range=[-5, 1], side="right",
                 tickvals=[-5, -4, -3, -2, -1, 0, 1])
fig.update_yaxes(common_y, row=3, col=1, range=[150, 550], tickvals=[200, 300, 400, 500],
                 minor=dict(tickvals=[250, 350, 450], showgrid=True, gridcolor=GRID, ticklen=0))
fig.update_yaxes(common_y, row=4, col=1, range=[-0.8, 1.2], side="right",
                 tickvals=[-0.8, -0.4, 0, 0.4, 0.8, 1.2],
                 ticktext=["-0.8", "-0.4", "0", "0.4", "0.8", "1.2"])

leg_common = dict(bgcolor="white", bordercolor="black", borderwidth=1, font=dict(size=15.5, color=TXT),
                  itemwidth=30, tracegroupgap=0, yanchor="top")
fig.update_layout(
    width=1151, height=995,
    margin=dict(l=87, r=76, t=15, b=57),
    paper_bgcolor="white", plot_bgcolor="rgba(0,0,0,0)",
    font=dict(family=FONT, color=TXT),
    shapes=shapes, annotations=annotations,
    legend=dict(leg_common, x=0.993, xanchor="right", y=0.885),
    legend2=dict(leg_common, x=0.993, xanchor="right", y=0.743),
    legend3=dict(leg_common, x=0.006, xanchor="left", y=0.493),
    legend4=dict(leg_common, x=0.993, xanchor="right", y=0.2416),
)

fig.write_html("out.html")
